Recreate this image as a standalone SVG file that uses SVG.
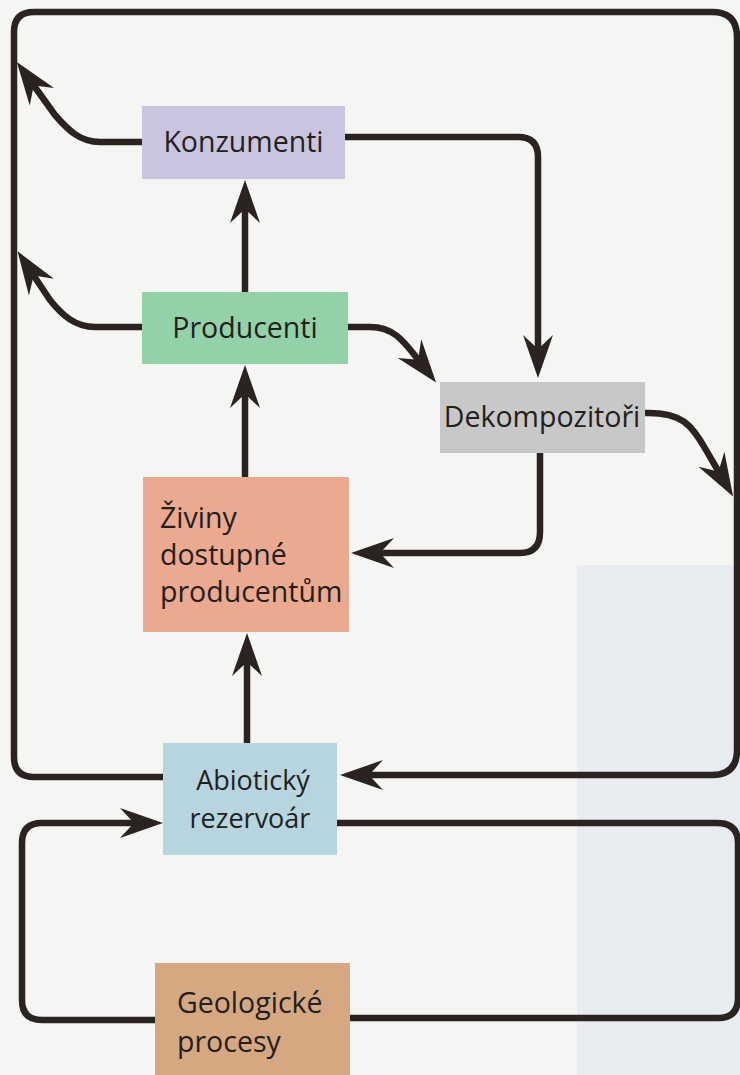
<svg xmlns="http://www.w3.org/2000/svg" width="740" height="1075" viewBox="0 0 740 1075">
<style>
.ln{fill:none;stroke:#2a2321;stroke-width:6.5;stroke-linecap:butt;stroke-linejoin:round}
.t{font-family:"Open Sans","Noto Sans","DejaVu Sans",sans-serif;font-size:28.5px;fill:#231f20}
.s{font-size:27px}
</style>
<defs>
<marker id="ah" markerUnits="userSpaceOnUse" markerWidth="48" markerHeight="34" viewBox="0 -17 48 34" refX="17" refY="0" orient="auto">
<path d="M43,0 L0,-15 L14,0 L0,15 Z" fill="#2a2321"/>
</marker>
</defs>
<rect width="740" height="1075" fill="#f5f5f3"/>
<rect x="577" y="565" width="163" height="510" fill="#e7ecf0"/>
<g id="connectors">
<path class="ln" d="M163,777 H34 Q14,777 14,757 V32 Q14,12 34,12 H712 Q737,12 737,37 V750 Q737,775 712,775 H366" marker-end="url(#ah)"/>
<path class="ln" d="M345,137 H518 Q538,137 538,157 V352" marker-end="url(#ah)"/>
<path class="ln" d="M245,292 V206" marker-end="url(#ah)"/>
<path class="ln" d="M245,477 V391" marker-end="url(#ah)"/>
<path class="ln" d="M247,743 V659" marker-end="url(#ah)"/>
<path class="ln" d="M540,453 V532 Q540,553 520,553 H377" marker-end="url(#ah)"/>
<path class="ln" d="M142,142 H100 C80,142 68,130 55,115 L32,83" marker-end="url(#ah)"/>
<path class="ln" d="M142,327 H95 C75,327 62,315 50,300 L32,273" marker-end="url(#ah)"/>
<path class="ln" d="M348,327 H370 C395,327 405,343 420,362" marker-end="url(#ah)"/>
<path class="ln" d="M645,413 C682,412 692,425 706,450 L720,474" marker-end="url(#ah)"/>
<path class="ln" d="M155,1020 H42 Q22,1020 22,1000 V843 Q22,823 42,823 H137" marker-end="url(#ah)"/>
<path class="ln" d="M337,823 H717 Q738,823 738,843 V998 Q738,1018 718,1018 H350"/>
</g>
<g id="konzumenti">
<rect x="142" y="106" width="203" height="73" fill="#c9c5e1"/>
<text class="t" x="243.5" y="152" text-anchor="middle">Konzumenti</text>
</g>
<g id="producenti">
<rect x="142" y="292" width="206" height="72" fill="#93d1a9"/>
<text class="t" x="245" y="338" text-anchor="middle">Producenti</text>
</g>
<g id="dekompozitori">
<rect x="440" y="382" width="205" height="71" fill="#c8c8c8"/>
<text class="t" x="542" y="427" text-anchor="middle">Dekompozitoři</text>
</g>
<g id="ziviny">
<rect x="143" y="477" width="206" height="155" fill="#eba98f"/>
<text class="t" x="160" y="528">Živiny</text>
<text class="t" x="160" y="565">dostupné</text>
<text class="t" x="160" y="602">producentům</text>
</g>
<g id="abioticky">
<rect x="163" y="743" width="174" height="112" fill="#b7d5df"/>
<text class="t s" x="253" y="790" text-anchor="middle">Abiotický</text>
<text class="t s" x="250" y="828" text-anchor="middle">rezervoár</text>
</g>
<g id="geologicke">
<rect x="155" y="963" width="195" height="112" fill="#d6a882"/>
<text class="t" x="177" y="1013">Geologické</text>
<text class="t" x="177" y="1052">procesy</text>
</g>
</svg>
